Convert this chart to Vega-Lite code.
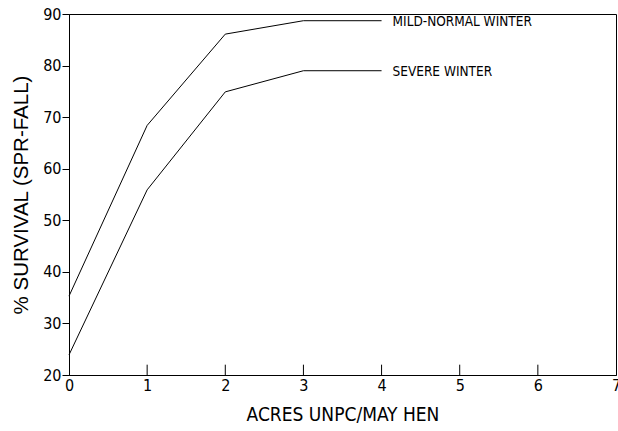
{
  "$schema": "https://vega.github.io/schema/vega-lite/v6.json",
  "width": 547,
  "height": 361,
  "autosize": {"type": "none"},
  "padding": {"left": 69, "top": 14, "right": 2, "bottom": 56},
  "background": "white",
  "config": {
    "view": {"stroke": "black", "strokeWidth": 1},
    "font": "DejaVu Sans Condensed, Liberation Sans"
  },
  "datasets": {
    "lines": [
      {"acres": 0, "survival": 35.3, "winter": "MILD-NORMAL WINTER"},
      {"acres": 1, "survival": 68.4, "winter": "MILD-NORMAL WINTER"},
      {"acres": 2, "survival": 86.1, "winter": "MILD-NORMAL WINTER"},
      {"acres": 3, "survival": 88.7, "winter": "MILD-NORMAL WINTER"},
      {"acres": 4, "survival": 88.7, "winter": "MILD-NORMAL WINTER"},
      {"acres": 0, "survival": 23.9, "winter": "SEVERE WINTER"},
      {"acres": 1, "survival": 55.9, "winter": "SEVERE WINTER"},
      {"acres": 2, "survival": 74.9, "winter": "SEVERE WINTER"},
      {"acres": 3, "survival": 79.0, "winter": "SEVERE WINTER"},
      {"acres": 4, "survival": 79.0, "winter": "SEVERE WINTER"}
    ],
    "labels": [
      {"acres": 4, "survival": 88.7, "winter": "MILD-NORMAL WINTER"},
      {"acres": 4, "survival": 79.0, "winter": "SEVERE WINTER"}
    ],
    "ticks": [
      {"acres": 1, "lo": 20, "hi": 22},
      {"acres": 2, "lo": 20, "hi": 22},
      {"acres": 3, "lo": 20, "hi": 22},
      {"acres": 4, "lo": 20, "hi": 22},
      {"acres": 5, "lo": 20, "hi": 22},
      {"acres": 6, "lo": 20, "hi": 22}
    ]
  },
  "layer": [
    {
      "data": {"name": "lines"},
      "mark": {"type": "line", "color": "black", "strokeWidth": 1},
      "encoding": {
        "x": {
          "field": "acres", "type": "quantitative",
          "scale": {"domain": [0, 7], "nice": false},
          "axis": {
            "title": "ACRES UNPC/MAY HEN",
            "titleFont": "DejaVu Sans Condensed, Liberation Sans",
            "titleFontSize": 19,
            "titleFontWeight": "normal",
            "titleColor": "black",
            "titlePadding": 12,
            "values": [0, 1, 2, 3, 4, 5, 6, 7],
            "format": "d",
            "grid": false,
            "domainColor": "black",
            "ticks": false,
            "labelPadding": 2,
            "labelFontSize": 16,
            "labelColor": "black",
            "labelFont": "DejaVu Sans Condensed, Liberation Sans",
            "labelFlush": false
          }
        },
        "y": {
          "field": "survival", "type": "quantitative",
          "scale": {"domain": [20, 90], "nice": false, "zero": false},
          "axis": {
            "title": "% SURVIVAL (SPR-FALL)",
            "titleFont": "Liberation Sans",
            "titleFontSize": 20.5,
            "titleFontWeight": "normal",
            "titleColor": "black",
            "titlePadding": 11,
            "values": [20, 30, 40, 50, 60, 70, 80, 90],
            "format": "d",
            "grid": false,
            "domainColor": "black",
            "tickColor": "black",
            "tickSize": 7,
            "labelPadding": 1,
            "labelFontSize": 16,
            "labelColor": "black",
            "labelFont": "DejaVu Sans Condensed, Liberation Sans",
            "labelFlush": false
          }
        },
        "detail": {"field": "winter", "type": "nominal"}
      }
    },
    {
      "data": {"name": "ticks"},
      "mark": {"type": "rule", "color": "black", "strokeWidth": 1},
      "encoding": {
        "x": {"field": "acres", "type": "quantitative"},
        "y": {"field": "lo", "type": "quantitative"},
        "y2": {"field": "hi"}
      }
    },
    {
      "data": {"name": "labels"},
      "mark": {"type": "text", "align": "left", "baseline": "middle", "dx": 11, "dy": 1, "fontSize": 13.5, "font": "DejaVu Sans Condensed, Liberation Sans", "color": "black"},
      "encoding": {
        "x": {"field": "acres", "type": "quantitative"},
        "y": {"field": "survival", "type": "quantitative"},
        "text": {"field": "winter", "type": "nominal"}
      }
    }
  ]
}
